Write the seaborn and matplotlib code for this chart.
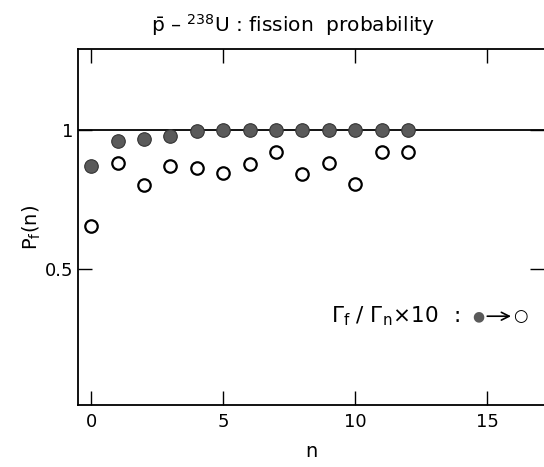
import matplotlib
matplotlib.use("Agg")
import matplotlib.pyplot as plt
import seaborn as sns
import pandas as pd

n_values = list(range(13))
pf_filled = [0.871, 0.958, 0.968, 0.978, 0.997, 1.0, 0.998, 0.998, 1.0, 1.0, 1.0, 1.0, 1.0]
pf_open = [0.655, 0.880, 0.800, 0.869, 0.862, 0.843, 0.877, 0.920, 0.840, 0.881, 0.805, 0.919, 0.921]
x_ticks = [0, 5, 10, 15]
y_ticks = [0.5, 1.0]
y_tick_labels = ["0.5", "1"]

sns.set_style("ticks")
plt.rcParams['font.family'] = ['DejaVu Sans']
plt.rcParams['text.color'] = 'black'
plt.rcParams['axes.labelcolor'] = 'black'

df_f = pd.DataFrame({"n": n_values, "Pf": pf_filled})
df_o = pd.DataFrame({"n": n_values, "Pf": pf_open})

fig = plt.figure(figsize=(5.44, 4.67), dpi=100)
ax = fig.add_axes([78/544, 1-405/467, 1-78/544, (405-49)/467])

ax.axhline(1.0, color="black", lw=1.3, zorder=1)
sns.scatterplot(data=df_o, x="n", y="Pf", ax=ax, s=80, facecolor="white",
                edgecolor="black", linewidth=1.6, zorder=3)
sns.scatterplot(data=df_f, x="n", y="Pf", ax=ax, s=95, color="#5a5a5a",
                edgecolor="#333333", linewidth=0.8, zorder=4)

ax.set_xlim(-0.5, 17.15)
ax.set_ylim(0.011, 1.29)
ax.set_xticks(x_ticks)
ax.set_yticks(y_ticks)
ax.set_yticklabels(y_tick_labels)
ax.tick_params(axis="both", direction="in", length=10, width=1.0, labelsize=13,
               top=True, right=True, color="black", labelcolor="black")
ax.tick_params(axis="x", pad=6)
ax.tick_params(axis="y", pad=3)
for side in ["left", "bottom", "top"]:
    ax.spines[side].set_linewidth(1.3)
    ax.spines[side].set_color("black")
ax.spines["right"].set_visible(False)

ax.set_xlabel("n", fontsize=14, labelpad=8)
ax.set_ylabel("P$_\\mathregular{f}$(n)", fontsize=14, labelpad=2)

fig.text(293/544, 1-25/467, "$\\bar{\\mathregular{p}}$ – $^{238}$U : fission  probability",
         ha="center", va="center", fontsize=14.5)

ax.text(13.14, 0.33, "Γ$_\\mathregular{f}$ / Γ$_\\mathregular{n}$×10", ha="right", va="center",
        fontsize=15.5)
ax.text(13.85, 0.33, ":", ha="center", va="center", fontsize=15.5)
ax.text(14.68, 0.33, "●", ha="center", va="center", fontsize=10, color="#5a5a5a")
ax.annotate("", xy=(15.9, 0.33), xytext=(15.0, 0.33),
            arrowprops=dict(arrowstyle="->", color="black", lw=1.2, mutation_scale=14,
                            shrinkA=0, shrinkB=0))
ax.text(16.25, 0.33, "○", ha="center", va="center", fontsize=12)

fig.savefig("out.png", dpi=100)
